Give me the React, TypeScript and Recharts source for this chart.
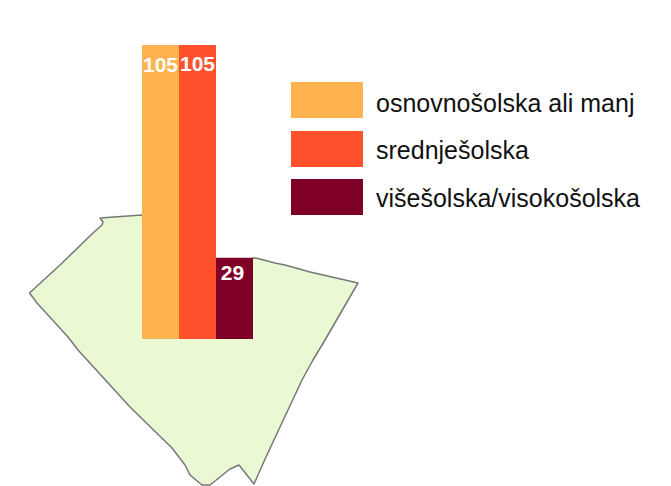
import { Bar, BarChart, LabelList, Scatter, ScatterChart, XAxis, YAxis } from 'recharts'

const WIDTH = 671
const HEIGHT = 486

const seriesNames = ['osnovnošolska ali manj', 'srednješolska', 'višešolska/visokošolska']
const seriesValues = [105, 105, 29]
const seriesColors = ['#FFB24D', '#FF512B', '#7F0027']

// outline of the area on the map, in map units
const mapX = [100, 142, 200, 216, 250, 253, 258, 275, 285, 310, 358, 325, 313, 302, 266, 254, 239, 230, 210, 202, 190, 185, 172, 130, 78, 68, 37, 29.5, 60, 93, 102, 103]
const mapY = [218, 215, 235, 261, 261, 258, 258.5, 263, 265, 272, 283, 340, 360, 380, 457, 484, 465, 469, 485, 485, 475, 465, 448, 407, 350, 337, 303, 293, 265, 233, 225, 222]

const mapData = mapX.map((x, i) => ({ x, y: mapY[i] }))
const barData = [
  { name: 'izobrazba', s0: seriesValues[0], s1: seriesValues[1], s2: seriesValues[2] },
]

function MapOutline({ points }: any) {
  const d = points.map((p: any, i: number) => `${i === 0 ? 'M' : 'L'}${p.x},${p.y}`).join(' ') + ' Z'
  return <path d={d} fill="#EAF8D3" stroke="#777777" strokeWidth={1.5} strokeLinejoin="round" />
}

export default function App() {
  return (
    <div style={{ position: 'absolute', left: 0, top: 0, width: WIDTH, height: HEIGHT, overflow: 'hidden', background: '#fff', fontFamily: '"Liberation Sans", Arial, sans-serif' }}>
      <div style={{ position: 'absolute', left: 0, top: 0 }}>
        <ScatterChart width={WIDTH} height={HEIGHT} margin={{ top: 0, right: 0, bottom: 0, left: 0 }}>
          <XAxis type="number" dataKey="x" domain={[0, WIDTH]} hide />
          <YAxis type="number" dataKey="y" domain={[0, HEIGHT]} reversed hide />
          <Scatter
            data={mapData}
            line={(props: any) => <MapOutline {...props} />}
            shape={() => <g />}
            isAnimationActive={false}
          />
        </ScatterChart>
      </div>
      <div style={{ position: 'absolute', left: 0, top: 0 }}>
        <BarChart
          width={WIDTH}
          height={HEIGHT}
          data={barData}
          margin={{ top: 45, right: 418, bottom: 147, left: 142 }}
          barCategoryGap={0}
          barGap={0}
        >
          <XAxis dataKey="name" hide />
          <YAxis domain={[0, 105]} hide />
          {seriesNames.map((name, i) => (
            <Bar key={name} dataKey={`s${i}`} name={name} fill={seriesColors[i]} isAnimationActive={false}>
              <LabelList
                dataKey={`s${i}`}
                position="insideTop"
                offset={i === 0 ? 12 : i === 1 ? 11 : 7}
                dx={i === 2 ? -2 : 0}
                fill="#fff"
                fontSize={21}
                fontWeight={700}
                fontFamily='"Liberation Sans", Arial, sans-serif'
              />
            </Bar>
          ))}
        </BarChart>
      </div>
      {seriesNames.map((name, i) => (
        <div key={name} style={{ position: 'absolute', left: 291, top: [82, 131, 179][i], height: 36, display: 'flex', alignItems: 'center', whiteSpace: 'nowrap' }}>
          <div style={{ width: 72, height: 36, background: seriesColors[i], marginRight: 13 }} />
          <span style={{ fontSize: 25, color: '#111', position: 'relative', top: [3, 1, 1][i] }}>{name}</span>
        </div>
      ))}
    </div>
  )
}
